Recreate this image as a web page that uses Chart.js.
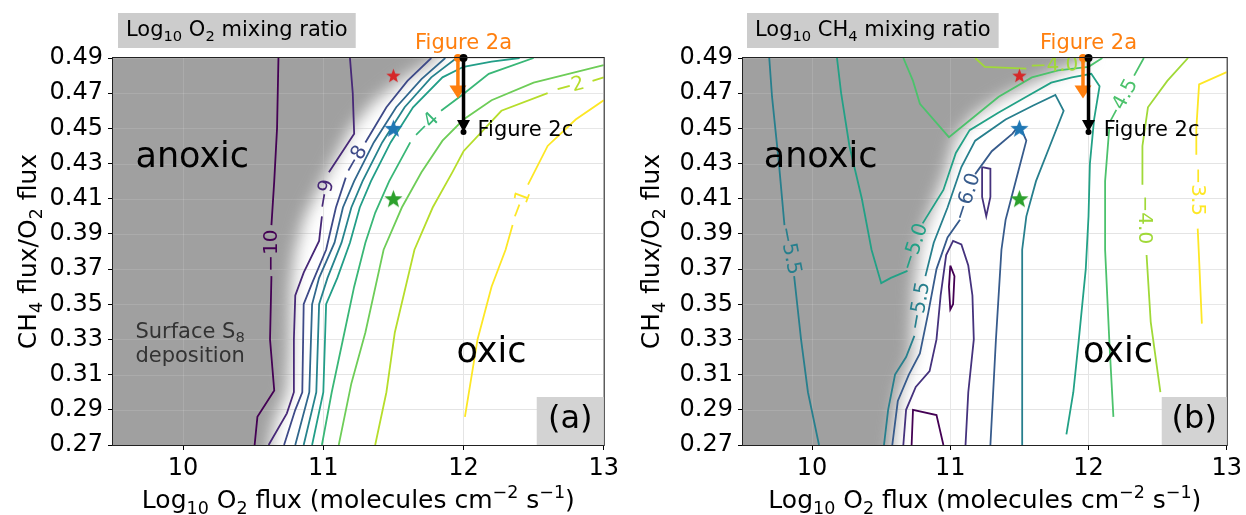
<!DOCTYPE html>
<html>
<head>
<meta charset="utf-8">
<script src="https://cdn.jsdelivr.net/npm/chart.js@4.4.0/dist/chart.umd.min.js"></script>
<style>
  html, body { margin: 0; padding: 0; background: #fff; }
  #wrap { position: relative; width: 1246px; height: 515px; }
  canvas { position: absolute; top: 0; }
</style>
</head>
<body>
<div id="wrap">
  <canvas id="chartA" width="623" height="515" style="left:0px"></canvas>
  <canvas id="chartB" width="623" height="515" style="left:623px"></canvas>
</div>
<script>
const FONT = "'DejaVu Sans', sans-serif"
Chart.defaults.font.family = FONT
Chart.defaults.color = '#000'

// axes
const xTicks = [10, 11, 12, 13]
const yTicks = [0.27, 0.29, 0.31, 0.33, 0.35, 0.37, 0.39, 0.41, 0.43, 0.45, 0.47, 0.49]

// stars (same place on both panels)
const starX = [11.5, 11.5, 11.5]
const starY = [0.48, 0.45, 0.41]

// Figure 2a (orange) and Figure 2c (black) arrows
const arrowX = [11.96, 12.0]
const arrowTop = [0.49, 0.49]
const arrowTip = [0.467, 0.448]

// ---- panel (a): log10 O2 mixing ratio contours, [x, y] with null = label gap
const o2Level10 = [[10.51,0.27],[10.53,0.286],[10.65,0.301],[10.62,0.33],[10.63,0.366],null,[10.63,0.395],[10.65,0.42],[10.67,0.45],[10.68,0.49]]
const o2Level9 = [[10.61,0.27],[10.74,0.288],[10.79,0.30],[10.79,0.33],[10.8,0.355],[10.86,0.368],[10.97,0.386],[10.99,0.40],null,[11.04,0.425],[11.22,0.447],[11.21,0.47],[11.19,0.49]]
const o2Level8 = [[10.72,0.27],[10.8,0.29],[10.85,0.30],[10.86,0.35],[10.92,0.362],[11.02,0.381],[11.09,0.405],[11.16,0.422],null,[11.3,0.442],[11.45,0.462],[11.6,0.477],[11.77,0.49]]
const o2Level7 = [[10.8,0.27],[10.9,0.30],[10.92,0.35],[10.97,0.365],[11.08,0.385],[11.14,0.405],[11.22,0.42],[11.36,0.442],[11.52,0.462],[11.7,0.478],[11.87,0.49]]
const o2Level6 = [[10.86,0.27],[10.95,0.30],[10.97,0.35],[11.03,0.365],[11.13,0.385],[11.2,0.405],[11.28,0.42],[11.42,0.442],[11.58,0.462],[11.77,0.479],[11.95,0.49]]
const o2Level5 = [[10.92,0.27],[11.0,0.30],[11.02,0.35],[11.1,0.365],[11.19,0.385],[11.26,0.405],[11.34,0.42],[11.48,0.442],[11.64,0.462],[11.85,0.479],[12.0,0.485],[12.2,0.488],[12.4,0.49]]
const o2Level4 = [[10.99,0.27],[11.06,0.30],[11.14,0.33],[11.22,0.36],[11.3,0.385],[11.37,0.402],[11.47,0.42],[11.62,0.442],null,[11.84,0.46],[11.99,0.469],[12.18,0.481],[12.5,0.49]]
const o2Level3 = [[11.11,0.27],[11.2,0.305],[11.3,0.334],[11.43,0.381],[11.56,0.405],[11.7,0.425],[11.85,0.443],[12.0,0.455],[12.2,0.466],[12.5,0.476],[13,0.486]]
const o2Level2 = [[11.37,0.27],[11.45,0.30],[11.51,0.334],[11.65,0.381],[11.78,0.405],[11.92,0.425],[12.0,0.437],[12.27,0.46],[12.6,0.47],null,[12.92,0.477],[13,0.479]]
const o2Level1 = [[12.01,0.286],[12.1,0.33],[12.2,0.36],[12.3,0.381],[12.35,0.395],null,[12.46,0.418],[12.6,0.44],[12.8,0.455],[13,0.466]]

const o2LabelText = ['−10', '−9', '−8', '−4', '−2', '−1']
const o2LabelLevel = [-10, -9, -8, -4, -2, -1]
const o2LabelX = [10.63, 11.015, 11.23, 11.73, 12.76, 12.405]
const o2LabelY = [0.3805, 0.4125, 0.432, 0.451, 0.4735, 0.4065]

// edge of the grey (anoxic) region, middle of the fade
const o2GrayY = [0.27, 0.285, 0.30, 0.32, 0.36, 0.38, 0.40, 0.42, 0.435, 0.45, 0.465, 0.478, 0.49]
const o2GrayX = [10.62, 10.66, 10.74, 10.76, 10.77, 10.8, 10.87, 11.0, 11.1, 11.2, 11.36, 11.57, 11.82]

// ---- panel (b): log10 CH4 mixing ratio contours
const ch4Left55 = [[9.69,0.49],[9.71,0.468],[9.76,0.43],[9.8,0.395],null,[9.87,0.366],[9.92,0.33],[9.97,0.30],[10.05,0.27]]
const ch4Level50 = [[10.18,0.49],[10.21,0.47],[10.27,0.44],[10.36,0.41],[10.43,0.381],[10.5,0.362],[10.57,0.365],[10.69,0.369],null,[10.8,0.396],[10.95,0.415],[11.04,0.436],[11.14,0.449],[11.35,0.459],[11.55,0.468],[11.73,0.476],[11.88,0.479],[12.02,0.481],[12.08,0.474],[12.04,0.455],[12.01,0.43],[12.0,0.40],[11.98,0.37],[11.93,0.33],[11.89,0.30],[11.84,0.276]]
const ch4Level55 = [[10.52,0.27],[10.55,0.29],[10.6,0.31],[10.68,0.32],[10.74,0.332],null,[10.82,0.366],[10.88,0.385],[10.98,0.405],[11.08,0.428],[11.18,0.443],[11.4,0.455],[11.6,0.463],[11.76,0.469],[11.82,0.46],[11.72,0.44],[11.62,0.42],[11.55,0.40],[11.52,0.381],[11.52,0.33],[11.52,0.27]]
const ch4Level60 = [[10.58,0.27],[10.62,0.295],[10.7,0.31],[10.78,0.322],[10.84,0.345],[10.9,0.37],[10.98,0.388],[11.07,0.398],null,[11.18,0.424],[11.3,0.437],[11.45,0.447],[11.5,0.452],[11.55,0.443],[11.5,0.428],[11.44,0.41],[11.4,0.398],[11.37,0.381],[11.33,0.33],[11.29,0.27]]
const ch4Level65 = [[10.66,0.27],[10.68,0.29],[10.75,0.303],[10.85,0.312],[10.9,0.33],[10.93,0.355],[10.97,0.378],[11.02,0.386],[11.08,0.384],[11.13,0.372],[11.16,0.355],[11.17,0.33],[11.13,0.30],[11.11,0.27]]
const ch4Loop65 = [[11.23,0.428],[11.29,0.427],[11.29,0.411],[11.26,0.40],[11.23,0.411],[11.23,0.428]]
const ch4Arch70 = [[10.72,0.27],[10.73,0.29],[10.9,0.287],[10.95,0.27]]
const ch4Loop70 = [[11.0,0.372],[11.03,0.366],[11.02,0.35],[11.0,0.347],[10.99,0.36],[11.0,0.372]]
const ch4Level45 = [[10.66,0.49],[10.73,0.477],[10.78,0.464],[10.99,0.445],[11.21,0.459],[11.35,0.468],[11.59,0.479],[11.78,0.483],[12.0,0.485],[12.1,0.49]]
const ch4Right45 = [[12.18,0.286],[12.15,0.33],[12.12,0.381],[12.12,0.42],[12.15,0.45],null,[12.33,0.48],[12.4,0.49]]
const ch4Top40 = [[11.18,0.49],[11.25,0.485],[11.55,0.484],null,[11.95,0.487],[12.02,0.49]]
const ch4Right40 = [[12.72,0.49],[12.57,0.477],[12.43,0.462],[12.39,0.44],[12.39,0.418],null,[12.42,0.378],[12.45,0.34],[12.52,0.30]]
const ch4Right35 = [[13,0.482],[12.8,0.475],[12.78,0.45],[12.78,0.435],null,[12.79,0.393],[12.8,0.376],[12.82,0.339]]

const ch4LabelText = ['−5.5', '−5.0', '−5.5', '−6.0', '−4.0', '−4.5', '−4.0', '−3.5']
const ch4LabelLevel = [-5.5, -5, -5.5, -6, -4, -4.5, -4, -3.5]
const ch4LabelX = [9.835, 10.745, 10.78, 11.125, 11.75, 12.24, 12.405, 12.785]
const ch4LabelY = [0.3805, 0.3825, 0.349, 0.411, 0.4855, 0.465, 0.398, 0.414]

const ch4GrayY = [0.27, 0.30, 0.32, 0.36, 0.385, 0.405, 0.425, 0.445, 0.458, 0.467, 0.475, 0.482, 0.49]
const ch4GrayX = [10.58, 10.63, 10.72, 10.74, 10.78, 10.87, 10.97, 11.04, 11.18, 11.36, 11.57, 11.78, 12.0]

// text pieces: [text, 0 normal | -1 subscript | 1 superscript]
const xTitle = [['Log', 0], ['10', -1], [' O', 0], ['2', -1], [' flux (molecules cm', 0], ['−2', 1], [' s', 0], ['−1', 1], [')', 0]]
const yTitle = [['CH', 0], ['4', -1], [' flux/O', 0], ['2', -1], [' flux', 0]]
const o2Title = [['Log', 0], ['10', -1], [' O', 0], ['2', -1], [' mixing ratio', 0]]
const ch4Title = [['Log', 0], ['10', -1], [' CH', 0], ['4', -1], [' mixing ratio', 0]]
const surfaceText = [['Surface S', 0], ['8', -1]]

// viridis colour ramp
const viridisStops = ['#440154','#482475','#414487','#355f8d','#2a788e','#21918c','#22a884','#44bf70','#7ad151','#bddf26','#fde725']
function viridis(t) {
  t = Math.min(1, Math.max(0, t))
  const s = t * 10
  const i = Math.min(9, Math.floor(s))
  const f = s - i
  const a = viridisStops[i], b = viridisStops[i + 1]
  const c = k => {
    const va = parseInt(a.substr(1 + 2 * k, 2), 16)
    const vb = parseInt(b.substr(1 + 2 * k, 2), 16)
    return Math.round(va + (vb - va) * f)
  }
  return `rgb(${c(0)},${c(1)},${c(2)})`
}

function starImage(color, size) {
  const c = document.createElement('canvas')
  c.width = size
  c.height = size
  const g = c.getContext('2d')
  const R = size / 2, r = R * 0.42
  g.beginPath()
  for (let k = 0; k < 10; k++) {
    const ang = -Math.PI / 2 + k * Math.PI / 5
    const rad = k % 2 ? r : R
    g.lineTo(R + rad * Math.cos(ang), R * 1.08 + rad * Math.sin(ang))
  }
  g.closePath()
  g.fillStyle = color
  g.fill()
  return c
}
const starImages = [starImage('#d62728', 15), starImage('#1f77b4', 19), starImage('#2ca02c', 19)]

function toPoints(pts) {
  return pts.map(p => p ? { x: p[0], y: p[1] } : { x: null, y: null })
}

// draws text with sub/superscripts, returns its width
function richWidth(ctx, parts, size) {
  let w = 0
  parts.forEach(([t, k]) => {
    ctx.font = `${k ? size * 0.7 : size}px ${FONT}`
    w += ctx.measureText(t).width
  })
  return w
}
function drawRich(ctx, parts, x, y, size, align) {
  const w = richWidth(ctx, parts, size)
  let cx = align === 'center' ? x - w / 2 : x
  ctx.textAlign = 'left'
  ctx.textBaseline = 'alphabetic'
  parts.forEach(([t, k]) => {
    ctx.font = `${k ? size * 0.7 : size}px ${FONT}`
    const dy = k < 0 ? size * 0.22 : (k > 0 ? -size * 0.42 : 0)
    ctx.fillText(t, cx, y + dy)
    cx += ctx.measureText(t).width
  })
  return w
}

// grey anoxic area with a soft edge, drawn under the contours
function grayPlugin(edgeX, edgeY) {
  return {
    id: 'grayRegion',
    beforeDatasetsDraw(chart) {
      const { ctx, chartArea: a, scales: { x, y } } = chart
      ctx.save()
      ctx.beginPath()
      ctx.rect(a.left, a.top, a.width, a.height)
      ctx.clip()
      ctx.filter = 'blur(8px)'
      ctx.beginPath()
      ctx.moveTo(a.left - 60, a.bottom + 60)
      ctx.lineTo(x.getPixelForValue(edgeX[0]), a.bottom + 60)
      edgeY.forEach((v, i) => ctx.lineTo(x.getPixelForValue(edgeX[i]), y.getPixelForValue(v)))
      ctx.lineTo(x.getPixelForValue(edgeX[edgeX.length - 1]), a.top - 60)
      ctx.lineTo(a.left - 60, a.top - 60)
      ctx.closePath()
      ctx.fillStyle = '#a0a0a0'
      ctx.fill()
      ctx.filter = 'none'
      // faint grid over the grey
      ctx.strokeStyle = 'rgba(255,255,255,0.12)'
      ctx.lineWidth = 1
      yTicks.forEach(v => {
        const py = Math.round(y.getPixelForValue(v)) + 0.5
        ctx.beginPath(); ctx.moveTo(a.left, py); ctx.lineTo(a.right, py); ctx.stroke()
      })
      xTicks.forEach(v => {
        const px = Math.round(x.getPixelForValue(v)) + 0.5
        ctx.beginPath(); ctx.moveTo(px, a.top); ctx.lineTo(px, a.bottom); ctx.stroke()
      })
      ctx.restore()
    }
  }
}

function drawArrow(ctx, px, y0, y1, color, lw, headW, headH, dotR, tipDot) {
  ctx.strokeStyle = color
  ctx.fillStyle = color
  ctx.lineWidth = lw
  ctx.beginPath()
  ctx.moveTo(px, y0)
  ctx.lineTo(px, y1 - headH + 1)
  ctx.stroke()
  ctx.beginPath()
  ctx.moveTo(px - headW / 2, y1 - headH)
  ctx.lineTo(px + headW / 2, y1 - headH)
  ctx.lineTo(px, y1)
  ctx.closePath()
  ctx.fill()
  ctx.beginPath()
  ctx.arc(px, y0, dotR, 0, Math.PI * 2)
  ctx.fill()
  if (tipDot) {
    ctx.beginPath()
    ctx.arc(px, y1, 3, 0, Math.PI * 2)
    ctx.fill()
  }
}

// labels, arrows, texts and boxes
function annotPlugin(p) {
  return {
    id: 'annot',
    afterDatasetsDraw(chart) {
      const { ctx, chartArea: a, scales: { x, y } } = chart
      ctx.save()
      ctx.beginPath()
      ctx.rect(a.left, a.top, a.width, a.height)
      ctx.clip()
      // contour labels, rotated along the line
      ctx.font = `20px ${FONT}`
      ctx.textAlign = 'center'
      ctx.textBaseline = 'middle'
      p.labelText.forEach((t, i) => {
        ctx.save()
        ctx.translate(x.getPixelForValue(p.labelX[i]), y.getPixelForValue(p.labelY[i]))
        ctx.rotate(p.labelRot[i] * Math.PI / 180)
        ctx.fillStyle = p.color(p.labelLevel[i])
        ctx.fillText(t, 0, 0)
        ctx.restore()
      })
      // region names
      ctx.textAlign = 'left'
      ctx.textBaseline = 'alphabetic'
      ctx.fillStyle = '#000'
      ctx.font = `35px ${FONT}`
      ctx.fillText('anoxic', x.getPixelForValue(p.anoxic[0]), y.getPixelForValue(p.anoxic[1]))
      ctx.fillText('oxic', x.getPixelForValue(p.oxic[0]), y.getPixelForValue(p.oxic[1]))
      if (p.surface) {
        ctx.fillStyle = '#333'
        drawRich(ctx, surfaceText, x.getPixelForValue(9.66), y.getPixelForValue(0.331), 21, 'left')
        ctx.font = `21px ${FONT}`
        ctx.fillText('deposition', x.getPixelForValue(9.66), y.getPixelForValue(0.317))
      }
      ctx.restore()

      // arrows
      ctx.save()
      drawArrow(ctx, x.getPixelForValue(arrowX[0]), y.getPixelForValue(arrowTop[0]), y.getPixelForValue(arrowTip[0]), '#ff7f0e', 3.5, 17, 13, 4, false)
      drawArrow(ctx, x.getPixelForValue(arrowX[1]), y.getPixelForValue(arrowTop[1]), y.getPixelForValue(arrowTip[1]), '#000', 3.5, 13, 12, 4, true)
      ctx.font = `21px ${FONT}`
      ctx.textBaseline = 'alphabetic'
      ctx.fillStyle = '#ff7f0e'
      ctx.textAlign = 'center'
      ctx.fillText('Figure 2a', x.getPixelForValue(12.0), a.top - 9)
      ctx.fillStyle = '#000'
      ctx.textAlign = 'left'
      ctx.fillText('Figure 2c', x.getPixelForValue(p.fig2cX), y.getPixelForValue(0.4455))
      ctx.restore()
    },
    afterDraw(chart) {
      const { ctx, chartArea: a } = chart
      ctx.save()
      // frame
      ctx.strokeStyle = '#222'
      ctx.lineWidth = 1
      ctx.strokeRect(a.left - 0.5, a.top - 0.5, a.width + 1, a.height + 1)
      // axis titles
      ctx.fillStyle = '#000'
      drawRich(ctx, xTitle, (a.left + a.right) / 2, 508, 25, 'center')
      ctx.save()
      ctx.translate(36, (a.top + a.bottom) / 2)
      ctx.rotate(-Math.PI / 2)
      drawRich(ctx, yTitle, 0, 0, 25, 'center')
      ctx.restore()
      // title box
      const tw = richWidth(ctx, p.title, 21)
      ctx.fillStyle = '#cccccc'
      ctx.fillRect(a.left + p.titleOffset, 13, tw + 16, 35)
      ctx.fillStyle = '#000'
      drawRich(ctx, p.title, a.left + p.titleOffset + 8, 36, 21, 'left')
      // panel letter box
      ctx.fillStyle = '#d3d3d3'
      ctx.fillRect(a.right - p.letterW, a.bottom - 48, p.letterW, 48)
      ctx.fillStyle = '#000'
      ctx.font = `32px ${FONT}`
      ctx.textAlign = 'center'
      ctx.textBaseline = 'middle'
      ctx.fillText(p.letter, a.right - p.letterW / 2, a.bottom - 25)
      ctx.restore()
    }
  }
}

function buildChart(id, p) {
  const datasets = p.contours.map(c => ({
    data: toPoints(c[0]),
    showLine: true,
    borderColor: p.color(c[1]),
    borderWidth: 1.8,
    pointRadius: 0,
    pointHoverRadius: 0,
    fill: false,
    order: 5
  }))
  datasets.push({
    data: starX.map((v, i) => ({ x: v, y: starY[i] })),
    showLine: false,
    pointStyle: starImages,
    pointRadius: 9,
    order: 0
  })

  return new Chart(document.getElementById(id), {
    type: 'scatter',
    data: { datasets: datasets },
    options: {
      responsive: false,
      animation: false,
      events: [],
      layout: { padding: { top: 58, right: 18, bottom: 0, left: 0 } },
      plugins: { legend: { display: false }, tooltip: { enabled: false } },
      scales: {
        x: {
          type: 'linear',
          min: 9.5,
          max: 13,
          afterBuildTicks: s => { s.ticks = xTicks.map(v => ({ value: v })) },
          afterFit: s => { s.height = 70 },
          ticks: { font: { size: 24 }, color: '#000', padding: 4, maxRotation: 0, autoSkip: false },
          grid: { color: '#e4e4e4', tickColor: '#000', tickLength: 5 },
          border: { display: false },
          title: { display: false }
        },
        y: {
          type: 'linear',
          min: 0.27,
          max: 0.49,
          afterBuildTicks: s => { s.ticks = yTicks.map(v => ({ value: v })) },
          afterFit: s => { s.width = p.leftWidth },
          ticks: { font: { size: 24 }, color: '#000', padding: 5, autoSkip: false, callback: v => v.toFixed(2) },
          grid: { color: '#e4e4e4', tickColor: '#000', tickLength: 5 },
          border: { display: false },
          title: { display: false }
        }
      }
    },
    plugins: [grayPlugin(p.grayX, p.grayY), annotPlugin(p)]
  })
}

const o2Color = lvl => viridis((lvl + 10) / 9)
const ch4Color = lvl => viridis((lvl + 7) / 3.5)

buildChart('chartA', {
  contours: [[o2Level10, -10], [o2Level9, -9], [o2Level8, -8], [o2Level7, -7], [o2Level6, -6],
             [o2Level5, -5], [o2Level4, -4], [o2Level3, -3], [o2Level2, -2], [o2Level1, -1]],
  color: o2Color,
  grayX: o2GrayX,
  grayY: o2GrayY,
  labelText: o2LabelText,
  labelLevel: o2LabelLevel,
  labelX: o2LabelX,
  labelY: o2LabelY,
  labelRot: [-90, -80, -60, -45, -15, -69],
  anoxic: [9.66, 0.428],
  oxic: [11.95, 0.317],
  surface: true,
  fig2cX: 12.1,
  title: o2Title,
  titleOffset: 5,
  letter: '(a)',
  letterW: 67,
  leftWidth: 113
})

buildChart('chartB', {
  contours: [[ch4Left55, -5.5], [ch4Level50, -5], [ch4Level55, -5.5], [ch4Level60, -6], [ch4Level65, -6.5],
             [ch4Loop65, -6.5], [ch4Arch70, -7], [ch4Loop70, -7], [ch4Level45, -4.5], [ch4Right45, -4.5],
             [ch4Top40, -4], [ch4Right40, -4], [ch4Right35, -3.5]],
  color: ch4Color,
  grayX: ch4GrayX,
  grayY: ch4GrayY,
  labelText: ch4LabelText,
  labelLevel: ch4LabelLevel,
  labelX: ch4LabelX,
  labelY: ch4LabelY,
  labelRot: [79, -72, -80, -72, -2, -62, 90, 90],
  anoxic: [9.65, 0.428],
  oxic: [11.96, 0.317],
  surface: false,
  fig2cX: 12.11,
  title: ch4Title,
  titleOffset: 4,
  letter: '(b)',
  letterW: 65,
  leftWidth: 120
})
</script>
</body>
</html>
